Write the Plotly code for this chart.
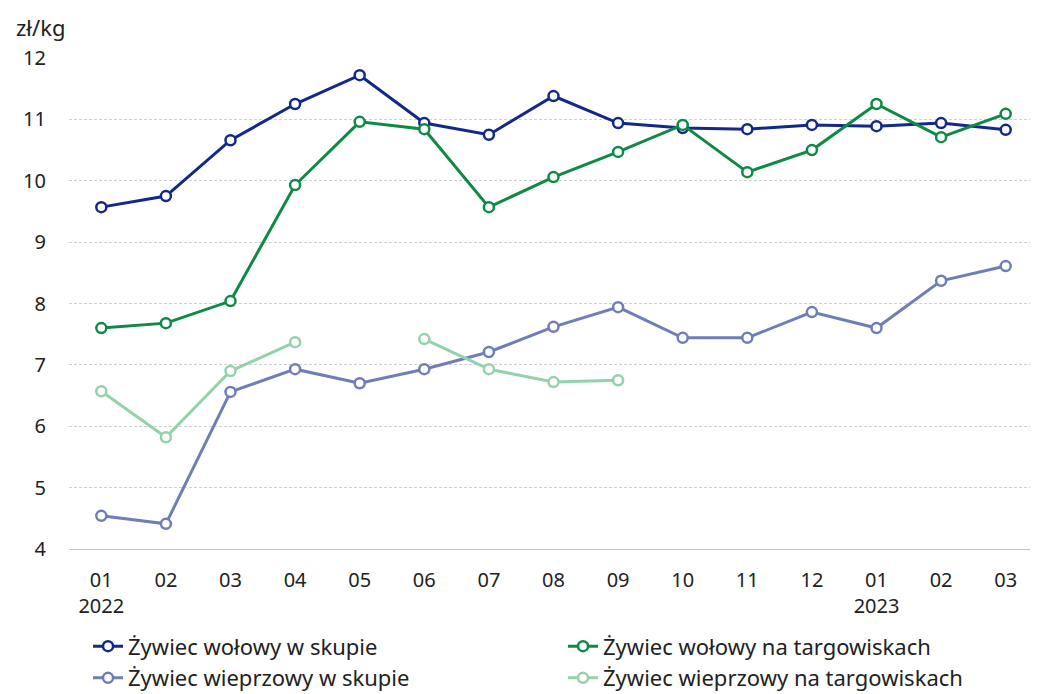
import plotly.graph_objects as go

months = ["01", "02", "03", "04", "05", "06", "07", "08", "09", "10", "11", "12", "01", "02", "03"]
years = ["2022", "", "", "", "", "", "", "", "", "", "", "", "2023", "", ""]

wolowy_skup = [9.57, 9.75, 10.66, 11.25, 11.72, 10.94, 10.75, 11.38, 10.94, 10.86, 10.84, 10.91, 10.89, 10.94, 10.83]
wolowy_targ = [7.60, 7.68, 8.04, 9.93, 10.96, 10.84, 9.57, 10.06, 10.47, 10.91, 10.14, 10.50, 11.25, 10.71, 11.09]
wieprz_skup = [4.54, 4.41, 6.56, 6.93, 6.70, 6.93, 7.21, 7.62, 7.94, 7.44, 7.44, 7.86, 7.60, 8.37, 8.61]
wieprz_targ = [6.57, 5.82, 6.90, 7.37, None, 7.42, 6.93, 6.72, 6.75, None, None, None, None, None, None]

names = ["Żywiec wołowy w skupie", "Żywiec wołowy na targowiskach",
         "Żywiec wieprzowy w skupie", "Żywiec wieprzowy na targowiskach"]
series = [wolowy_skup, wolowy_targ, wieprz_skup, wieprz_targ]
colors = ["#13298a", "#0e8a45", "#6f7db9", "#93d2ab"]

x = list(range(len(months)))
ticktext = [m + ("<br>" + y if y else "") for m, y in zip(months, years)]

fig = go.Figure()
for n, s, c in zip(names, series, colors):
    fig.add_trace(go.Scatter(
        x=x, y=s, name=n, mode="lines+markers",
        line=dict(color=c, width=3),
        marker=dict(symbol="circle", size=10, color="white", line=dict(color=c, width=2.5)),
        connectgaps=False,
    ))

font = "Noto Sans"
fig.update_layout(
    width=1030, height=686,
    paper_bgcolor="white", plot_bgcolor="white",
    margin=dict(l=61, r=0, t=50, b=145, autoexpand=False),
    font=dict(family=font, size=20, color="#222222"),
    showlegend=True,
    legend=dict(orientation="h", xref="container", x=0.0777, xanchor="left",
                yref="container", y=0.1, yanchor="top",
                entrywidth=430, entrywidthmode="pixels",
                font=dict(size=22, color="#222222"),
                tracegroupgap=0),
    xaxis=dict(range=[-0.5, 14.5], tickvals=x, ticktext=ticktext, showgrid=False,
               showline=True, linecolor="#bfbfbf", linewidth=1, ticks="", zeroline=False,
               ticklabelstandoff=13, tickfont=dict(size=20)),
    yaxis=dict(range=[4, 12], dtick=1, showgrid=True, gridcolor="#d0d0d0", griddash="3px,2px",
               gridwidth=1, zeroline=False, showline=False, ticks="", ticklabelstandoff=22,
               tickfont=dict(size=20)),
)
fig.add_annotation(text="zł/kg", xref="paper", yref="paper", x=-0.057, y=1.063,
                   xanchor="left", yanchor="middle", showarrow=False,
                   font=dict(size=22, color="#222222"))
fig.write_html("out.html")
